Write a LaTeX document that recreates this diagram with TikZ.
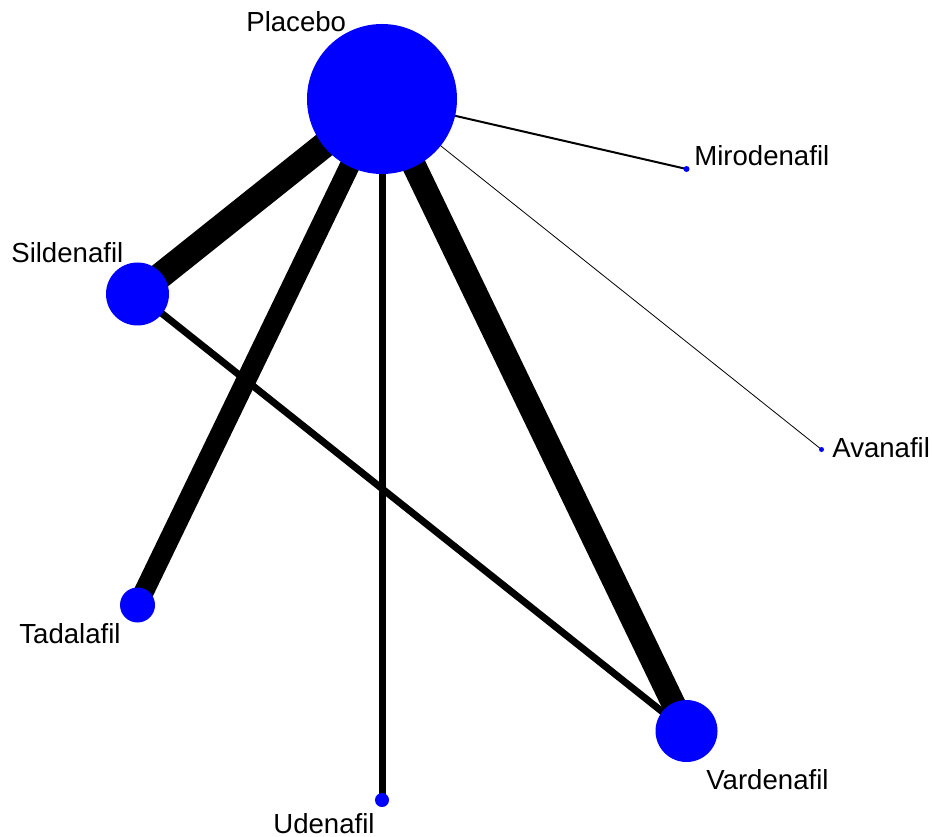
\documentclass[tikz,border=0pt]{standalone}
\usepackage{fontspec}
\setmainfont{Liberation Sans}
\usetikzlibrary{backgrounds}
\begin{document}
\begin{tikzpicture}[x=0.02cm,y=-0.02cm,line join=round,
  drug/.style={circle,fill=blue,inner sep=0pt,minimum size=2*#1*0.02cm},
  lbl/.style={anchor=base west,inner sep=0pt,font=\fontsize{15.7}{18}\selectfont},
  trial/.style={line width=#1*0.02cm}]
\useasboundingbox (0,0) rectangle (932,837);

\node[drug=75] (pla) at (382,99) {};
\node[drug=3] (mir) at (686.5,169) {};
\node[drug=2.5] (ava) at (821.5,449.5) {};
\node[drug=31] (var) at (686.5,731) {};
\node[drug=7] (ude) at (382,800) {};
\node[drug=17.5] (tad) at (137.5,605) {};
\node[drug=31.5] (sil) at (137.5,294) {};

\begin{scope}[on background layer]
\draw[trial=26] (pla.center)--(sil.center);
\draw[trial=20] (pla.center)--(tad.center);
\draw[trial=7] (pla.center)--(ude.center);
\draw[trial=24] (pla.center)--(var.center);
\draw[trial=2] (pla.center)--(mir.center);
\draw[trial=0.8] (pla.center)--(ava.center);
\draw[trial=7] (sil.center)--(var.center);
\end{scope}

    \node[lbl] (plaL) at (246,32) {Placebo};
    \node[lbl] (mirL) at (694,166) {Mirodenafil};
    \node[lbl] (avaL) at (832,457) {Avanafil};
    \node[lbl] (varL) at (706,789) {Vardenafil};
    \node[lbl] (udeL) at (273,833) {Udenafil};
    \node[lbl] (tadL) at (19,643) {Tadalafil};
    \node[lbl] (silL) at (11,263) {Sildenafil};
\end{tikzpicture}
\end{document}
